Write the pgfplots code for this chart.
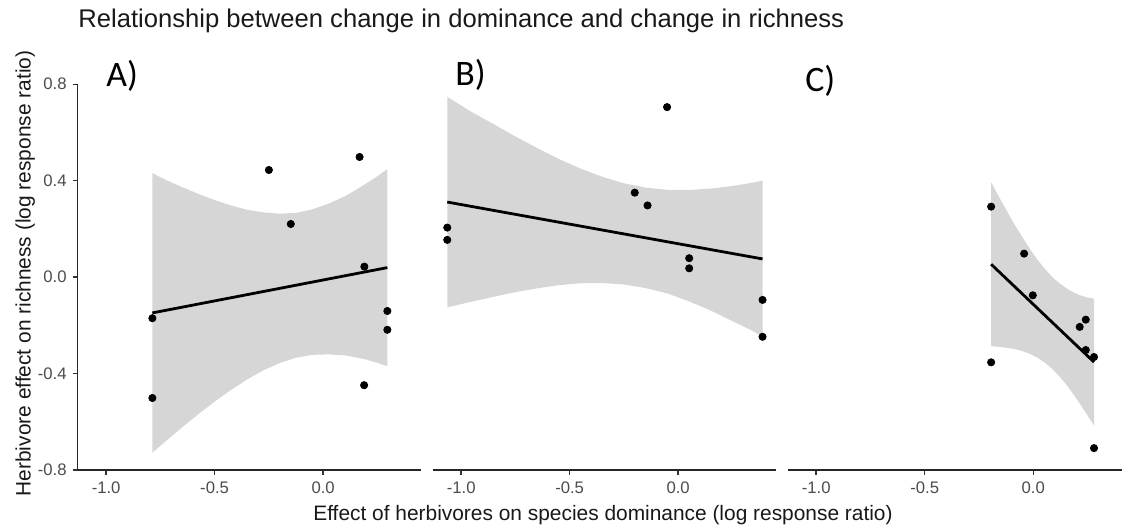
\documentclass[border=0pt]{standalone}
\usepackage{pgfplots}
\pgfplotsset{compat=1.18}
\usepackage{fontspec}
\setmainfont{Liberation Sans}
\newfontfamily\panelfont{Carlito}

\pgfplotsset{
  panel/.style={
    scale only axis, width=171.85pt, height=192.8pt,
    xmin=-1.132, xmax=0.452, ymin=-0.8, ymax=0.8,
    axis x line*=bottom,
    axis line style={-, black!85, line width=0.9pt},
    xtick={-1,-0.5,0}, xticklabels={-1.0,-0.5,0.0},
    tick align=outside, major tick length=2.5pt,
    tick style={black!80, line width=0.7pt},
    tick label style={font=\fontsize{8.35}{10}\selectfont, text=black!70},
    yticklabel style={anchor=east, inner sep=0pt, xshift=-2.75pt},
    clip=false,
  },
  pts/.style={only marks, mark=*, mark size=1.8pt, black},
  fitline/.style={black, line width=1.4pt},
  band/.style={fill=black!40, fill opacity=0.4, draw=none, mark=none},
}

\begin{document}
\begin{tikzpicture}

% Panel A
\begin{axis}[panel, at={(38.75pt,28.6pt)}, anchor=south west,
  axis y line*=left,
  ytick={-0.8,-0.4,0,0.4,0.8}, yticklabels={-0.8,-0.4,0.0,0.4,0.8}]
\addplot[pts] table {
x y
-0.250 0.444
0.168 0.498
-0.149 0.220
0.190 0.043
-0.787 -0.171
0.296 -0.141
0.296 -0.219
0.189 -0.449
-0.787 -0.502
};
% confidence band: upper edge left to right, lower edge back
\addplot[band] table {
x y
-0.787 0.431
-0.72 0.401
-0.65 0.373
-0.575 0.345
-0.5 0.319
-0.425 0.297
-0.35 0.279
-0.275 0.268
-0.2 0.263
-0.125 0.266
-0.05 0.281
0.025 0.304
0.1 0.335
0.15 0.361
0.2 0.389
0.25 0.418
0.296 0.448
0.296 -0.370
0.25 -0.356
0.2 -0.343
0.15 -0.333
0.1 -0.325
0.025 -0.321
-0.05 -0.323
-0.125 -0.335
-0.2 -0.357
-0.275 -0.387
-0.35 -0.425
-0.425 -0.469
-0.5 -0.517
-0.575 -0.569
-0.65 -0.624
-0.72 -0.677
-0.787 -0.729
};
\addplot[fitline] coordinates {(-0.787,-0.149) (0.296,0.039)};
\end{axis}

% Panel B
\begin{axis}[panel, at={(216.25pt,28.6pt)}, anchor=south west,
  axis y line=none]
\addplot[pts] table {
x y
-0.051 0.705
-1.064 0.205
-1.064 0.154
-0.200 0.350
-0.141 0.297
0.051 0.078
0.051 0.036
0.389 -0.095
0.389 -0.248
};
\addplot[band] table {
x y
-1.064 0.748
-0.96 0.689
-0.85 0.634
-0.75 0.583
-0.65 0.535
-0.55 0.490
-0.45 0.450
-0.35 0.416
-0.25 0.389
-0.15 0.371
-0.05 0.362
0.05 0.361
0.15 0.367
0.22 0.374
0.28 0.382
0.34 0.391
0.389 0.400
0.389 -0.248
0.34 -0.222
0.28 -0.196
0.22 -0.170
0.15 -0.139
0.05 -0.101
-0.05 -0.068
-0.15 -0.046
-0.25 -0.031
-0.35 -0.025
-0.45 -0.026
-0.55 -0.034
-0.65 -0.047
-0.75 -0.063
-0.85 -0.082
-0.96 -0.104
-1.064 -0.126
};
\addplot[fitline] coordinates {(-1.064,0.311) (0.389,0.075)};
\end{axis}

% Panel C
\begin{axis}[panel, at={(393.75pt,28.6pt)}, anchor=south west,
  width=167.25pt, xmax=0.409, axis y line=none]
\addplot[pts] table {
x y
-0.194 0.292
-0.042 0.097
-0.002 -0.076
0.214 -0.207
0.242 -0.177
0.242 -0.303
0.280 -0.332
-0.194 -0.354
0.280 -0.710
};
\addplot[band] table {
x y
-0.194 0.393
-0.155 0.328
-0.12 0.272
-0.085 0.216
-0.05 0.165
-0.015 0.116
0.02 0.071
0.055 0.032
0.09 -0.002
0.125 -0.029
0.16 -0.051
0.19 -0.066
0.22 -0.077
0.25 -0.085
0.280 -0.090
0.280 -0.616
0.25 -0.574
0.22 -0.533
0.19 -0.493
0.16 -0.455
0.125 -0.417
0.09 -0.383
0.055 -0.356
0.02 -0.335
-0.015 -0.319
-0.05 -0.307
-0.085 -0.299
-0.12 -0.294
-0.155 -0.290
-0.194 -0.287
};
\addplot[fitline] coordinates {(-0.194,0.053) (0.280,-0.353)};
\end{axis}

% Titles and panel letters
\node[anchor=base west, inner sep=0pt, font=\fontsize{12.8}{15}\selectfont, text=black!90]
  at (39pt,249.85pt) {Relationship between change in dominance and change in richness};
\node[anchor=base, inner sep=0pt, font=\fontsize{10.45}{12}\selectfont, text=black!90]
  at (301.5pt,3.5pt) {Effect of herbivores on species dominance (log response ratio)};
\node[anchor=base, rotate=90, inner sep=0pt, font=\fontsize{10.45}{12}\selectfont, text=black!90]
  at (15.25pt,126.75pt) {Herbivore effect on richness (log response ratio)};
\node[anchor=base west, inner sep=0pt, font=\panelfont\fontsize{17.9}{20}\selectfont]
  at (53pt,220.5pt) {A)};
\node[anchor=base west, inner sep=0pt, font=\panelfont\fontsize{17.9}{20}\selectfont]
  at (227.5pt,221pt) {B)};
\node[anchor=base west, inner sep=0pt, font=\panelfont\fontsize{17.9}{20}\selectfont]
  at (402.5pt,218pt) {C)};

% fix the page to the figure frame
\pgfresetboundingbox
\path[use as bounding box] (0,0) rectangle (561pt,263.5pt);
\end{tikzpicture}
\end{document}
